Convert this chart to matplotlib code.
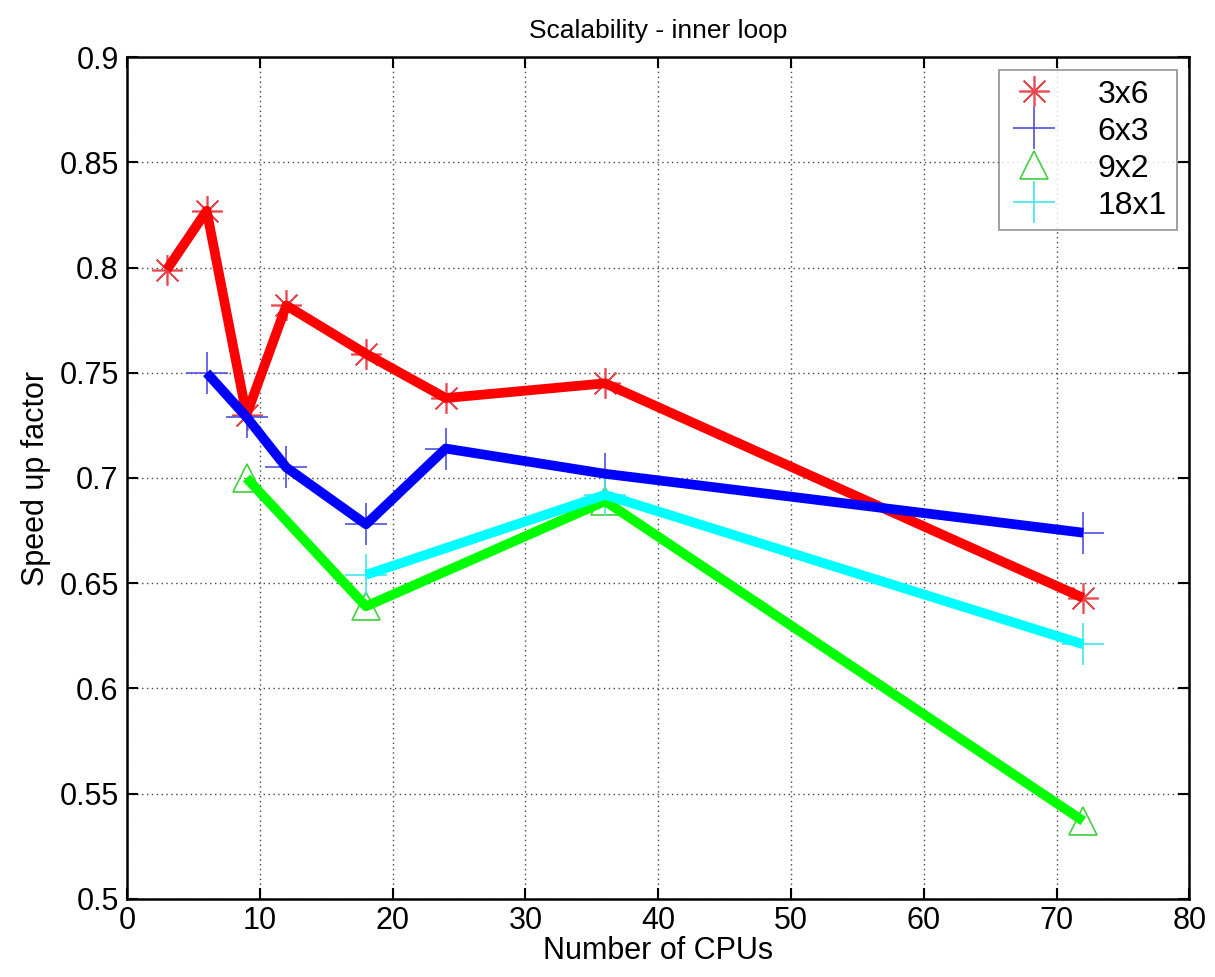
import matplotlib
matplotlib.use("Agg")
import matplotlib.pyplot as plt

plt.rcParams['font.family'] = ['Liberation Sans', 'DejaVu Sans']

cpus_3x6 = [3, 6, 9, 12, 18, 24, 36, 72]
speed_3x6 = [0.799, 0.827, 0.730, 0.782, 0.759, 0.738, 0.745, 0.643]

cpus_6x3 = [6, 9, 12, 18, 24, 36, 72]
speed_6x3 = [0.750, 0.729, 0.705, 0.678, 0.714, 0.702, 0.674]

cpus_9x2 = [9, 18, 36, 72]
speed_9x2 = [0.700, 0.639, 0.689, 0.537]

cpus_18x1 = [18, 36, 72]
speed_18x1 = [0.654, 0.692, 0.621]

labels = ["3x6", "6x3", "9x2", "18x1"]

fig = plt.figure(figsize=(12.15, 9.77), dpi=100)
ax = fig.add_axes([0.1045, 0.080, 0.8745, 0.8615])

series = [
    (cpus_3x6, speed_3x6, "#ff0000", "#e8474f", (8, 2, 0), 22, labels[0]),
    (cpus_6x3, speed_6x3, "#0000ff", "#5050e0", "+", 30, labels[1]),
    (cpus_9x2, speed_9x2, "#00ff00", "#40d040", "^", 20, labels[2]),
    (cpus_18x1, speed_18x1, "#00ffff", "#40e8e8", "+", 30, labels[3]),
]

for x, y, lc, mc, mk, ms, lab in series:
    ax.plot(x, y, color=lc, linewidth=7, solid_capstyle='butt', zorder=3)
for x, y, lc, mc, mk, ms, lab in series:
    ax.plot(x, y, linestyle='none', marker=mk, markersize=ms,
            markerfacecolor='none', markeredgecolor=mc, markeredgewidth=1.2,
            label=lab, zorder=2)

ax.set_xlim(0, 80)
ax.set_ylim(0.5, 0.9)
ax.set_xticks(range(0, 81, 10))
ax.set_yticks([0.5, 0.55, 0.6, 0.65, 0.7, 0.75, 0.8, 0.85, 0.9])
ax.set_yticklabels(["0.5", "0.55", "0.6", "0.65", "0.7", "0.75", "0.8", "0.85", "0.9"])
ax.grid(True, linestyle=(0, (1, 2.5)), color='#444444', linewidth=1.0)
ax.tick_params(axis='both', direction='in', length=8, width=1.5, labelsize=22,
               top=True, right=True)
ax.tick_params(axis='x', pad=5)
ax.tick_params(axis='y', pad=6)
for s in ax.spines.values():
    s.set_linewidth(1.8)
    s.set_color('black')

ax.set_title("Scalability - inner loop", fontsize=19, pad=14)
ax.set_xlabel("Number of CPUs", fontsize=22, labelpad=0)
ax.set_ylabel("Speed up factor", fontsize=22, labelpad=6)

leg = ax.legend(loc='upper right', fontsize=23, frameon=True, fancybox=False,
                edgecolor='#777777', handlelength=1.6, handletextpad=1.2,
                borderpad=0.3, labelspacing=0.22, borderaxespad=0.4)
leg.get_frame().set_linewidth(1.2)

fig.savefig("out.png", dpi=100)
